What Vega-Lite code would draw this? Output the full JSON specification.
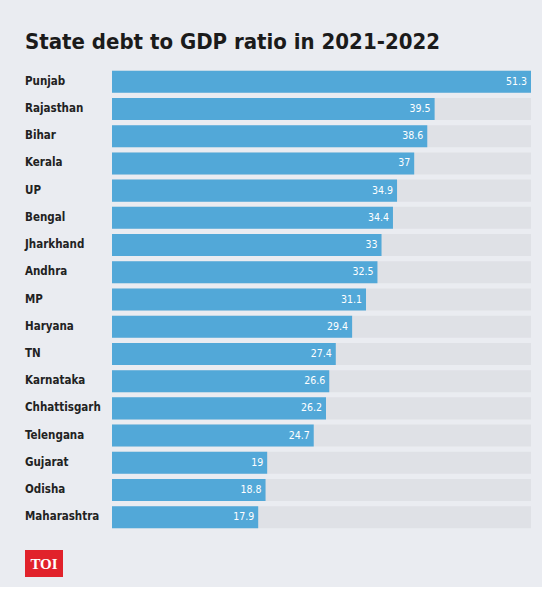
{
  "$schema": "https://vega.github.io/schema/vega-lite/v6.json",
  "background": "#eaecf1",
  "padding": {"left": 25, "top": 31, "right": 11, "bottom": 10},
  "title": {"text": "State debt to GDP ratio in 2021-2022", "anchor": "start", "font": "Liberation Sans Narrow, DejaVu Sans Condensed, Roboto, sans-serif", "fontSize": 22, "fontWeight": "bold", "color": "#1b1b1b", "offset": 14},
  "datasets": {
    "debt": [
      {"state": "Punjab", "ratio": 51.3},
      {"state": "Rajasthan", "ratio": 39.5},
      {"state": "Bihar", "ratio": 38.6},
      {"state": "Kerala", "ratio": 37},
      {"state": "UP", "ratio": 34.9},
      {"state": "Bengal", "ratio": 34.4},
      {"state": "Jharkhand", "ratio": 33},
      {"state": "Andhra", "ratio": 32.5},
      {"state": "MP", "ratio": 31.1},
      {"state": "Haryana", "ratio": 29.4},
      {"state": "TN", "ratio": 27.4},
      {"state": "Karnataka", "ratio": 26.6},
      {"state": "Chhattisgarh", "ratio": 26.2},
      {"state": "Telengana", "ratio": 24.7},
      {"state": "Gujarat", "ratio": 19},
      {"state": "Odisha", "ratio": 18.8},
      {"state": "Maharashtra", "ratio": 17.9}
    ]
  },
  "spacing": 19,
  "vconcat": [
    {
      "spacing": 0,
      "hconcat": [
        {
          "width": 87,
          "height": 463,
          "data": {"name": "debt"},
          "mark": {"type": "text", "align": "left", "baseline": "middle", "font": "Liberation Sans Narrow, DejaVu Sans Condensed, Roboto, sans-serif", "fontWeight": "bold", "fontSize": 11.5, "color": "#222222"},
          "encoding": {
            "x": {"datum": 0, "type": "quantitative", "scale": {"domain": [0, 1], "nice": false}, "axis": null},
            "y": {"field": "state", "type": "nominal", "sort": null, "scale": {"paddingInner": 0.19, "paddingOuter": 0.1}, "axis": null},
            "text": {"field": "state"}
          }
        },
        {
          "width": 419,
          "height": 463,
          "data": {"name": "debt"},
          "encoding": {
            "y": {"field": "state", "type": "nominal", "sort": null, "scale": {"paddingInner": 0.19, "paddingOuter": 0.1}, "axis": null}
          },
          "layer": [
            {
              "mark": {"type": "bar", "color": "#dfe1e6"},
              "encoding": {
                "x": {"datum": 51.3, "type": "quantitative", "scale": {"domain": [0, 51.3], "nice": false, "zero": true}, "axis": null}
              }
            },
            {
              "mark": {"type": "bar", "color": "#52a8d8"},
              "encoding": {"x": {"field": "ratio", "type": "quantitative"}}
            },
            {
              "mark": {"type": "text", "align": "right", "dx": -4, "color": "#ffffff", "font": "Liberation Sans Narrow, DejaVu Sans Condensed, Roboto, sans-serif", "fontSize": 10.5},
              "encoding": {
                "x": {"field": "ratio", "type": "quantitative"},
                "text": {"field": "ratio", "type": "quantitative"}
              }
            }
          ]
        }
      ]
    },
    {
      "width": 38,
      "height": 27,
      "data": {"values": [{"logo": "TOI"}]},
      "layer": [
        {"mark": {"type": "rect", "color": "#e1222b"}, "encoding": {}},
        {"mark": {"type": "text", "font": "Liberation Serif", "fontSize": 15, "fontWeight": "bold", "color": "#ffffff"}, "encoding": {"text": {"field": "logo"}}}
      ]
    }
  ],
  "config": {"view": {"stroke": null}}
}
